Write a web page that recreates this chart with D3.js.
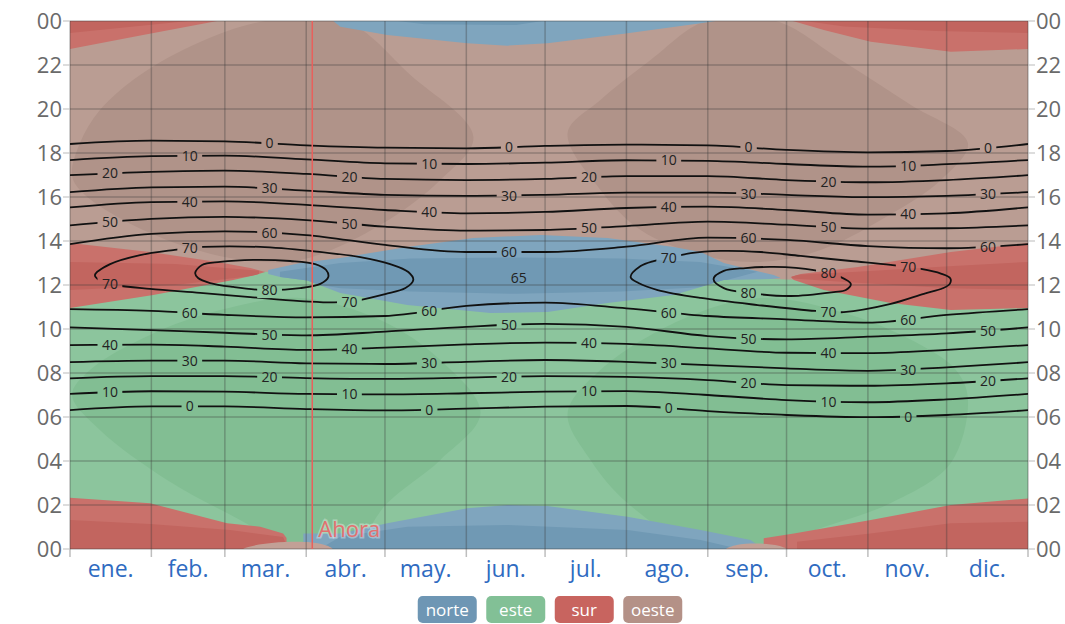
<!DOCTYPE html>
<html lang="es">
<head>
<meta charset="UTF-8">
<title>Posición del sol</title>
<script src="https://d3js.org/d3.v7.min.js"></script>
<style>
  body { margin: 0; background: #fff; }
  svg { display: block; font-family: "Open Sans", "Segoe UI", sans-serif; }
  .tick-label { fill: #6a6a6a; font-size: 22px; }
  .month-label { fill: #2f6bc1; font-size: 23px; }
  .contour { fill: none; stroke: #111; stroke-width: 1.8; }
  .contour-label { fill: #222; font-size: 14px; }
  .grid line { stroke: #3a3a3a; stroke-opacity: 0.33; stroke-width: 1.5; }
  .legend text { fill: #fff; font-size: 17px; }
</style>
</head>
<body>
<svg id="chart" width="1065" height="624"></svg>
<script>
// ---- values ----
const months = ["ene.", "feb.", "mar.", "abr.", "may.", "jun.", "jul.", "ago.", "sep.", "oct.", "nov.", "dic."];
const monthDays = [31, 28, 31, 30, 31, 30, 31, 31, 30, 31, 30, 31];
const hourTicks = [0, 2, 4, 6, 8, 10, 12, 14, 16, 18, 20, 22, 24];
const legendNames = ["norte", "este", "sur", "oeste"];

// sun elevation contours, hour of day at each month start (+ 31 dic)
const levels = [0, 10, 20, 30, 40, 50, 60];
const amHours = [
  [6.31, 6.48, 6.48, 6.36, 6.30, 6.38, 6.47, 6.50, 6.27, 6.09, 5.99, 6.09, 6.31],
  [7.05, 7.17, 7.15, 7.05, 7.03, 7.08, 7.15, 7.18, 7.00, 6.77, 6.67, 6.80, 7.05],
  [7.76, 7.86, 7.86, 7.77, 7.73, 7.79, 7.86, 7.82, 7.68, 7.45, 7.42, 7.53, 7.76],
  [8.49, 8.56, 8.56, 8.44, 8.41, 8.51, 8.59, 8.51, 8.36, 8.21, 8.10, 8.26, 8.49],
  [9.27, 9.29, 9.20, 9.05, 9.15, 9.30, 9.38, 9.32, 9.12, 8.92, 8.90, 9.05, 9.27],
  [10.07, 9.95, 9.83, 9.71, 9.88, 10.10, 10.23, 10.10, 9.68, 9.53, 9.65, 9.80, 10.07],
  [10.90, 10.82, 10.64, 10.53, 10.59, 11.05, 11.20, 10.94, 10.59, 10.44, 10.29, 10.64, 10.90]
];
const pmHours = [
  [18.41, 18.56, 18.53, 18.35, 18.24, 18.21, 18.32, 18.38, 18.35, 18.14, 18.03, 18.09, 18.41],
  [17.68, 17.86, 17.88, 17.71, 17.53, 17.50, 17.56, 17.67, 17.64, 17.50, 17.38, 17.49, 17.68],
  [16.99, 17.14, 17.20, 17.05, 16.82, 16.77, 16.82, 16.95, 16.95, 16.77, 16.67, 16.77, 16.99],
  [16.22, 16.44, 16.47, 16.29, 16.10, 16.05, 16.10, 16.20, 16.20, 16.10, 15.99, 16.05, 16.22],
  [15.53, 15.77, 15.80, 15.64, 15.41, 15.26, 15.32, 15.50, 15.56, 15.41, 15.20, 15.26, 15.53],
  [14.71, 15.01, 15.10, 14.95, 14.65, 14.47, 14.50, 14.68, 14.88, 14.74, 14.56, 14.58, 14.71],
  [13.86, 14.32, 14.44, 14.27, 13.82, 13.50, 13.50, 13.74, 14.15, 14.05, 13.77, 13.67, 13.86]
];

// closed contours near noon: [day of year, hour]
const loop70Left = [[9.5, 12.45], [15.3, 12.95], [26.7, 13.36], [39.3, 13.59], [50.7, 13.73], [72.5, 13.73], [91.5, 13.55], [110.6, 13.27], [122, 12.95], [128.9, 12.59], [130.8, 12.23], [127.8, 11.86], [120.1, 11.59], [105.6, 11.23], [87.7, 11.27], [68.7, 11.45], [49.6, 11.64], [30.5, 11.82], [17.2, 12.0], [11.4, 12.2]];
const loop80Left = [[47.7, 12.55], [50.3, 12.91], [57.2, 13.05], [69.8, 13.14], [83.9, 13.09], [93.4, 12.95], [97.6, 12.68], [98.4, 12.36], [95.4, 12.05], [87.7, 11.86], [74.4, 11.77], [62.2, 11.91], [53.4, 12.09], [48.8, 12.32]];
const loop70Right = [[213.6, 12.36], [217.4, 12.86], [222.4, 13.09], [228.1, 13.23], [236.5, 13.45], [247.9, 13.55], [263.2, 13.5], [278.4, 13.32], [297.5, 13.09], [312.7, 12.91], [324.2, 12.73], [331.8, 12.52], [335.4, 12.3], [335.2, 12.05], [332.5, 11.85], [325.3, 11.6], [312.7, 11.14], [294.8, 10.77], [284.1, 10.82], [262, 11.09], [240.3, 11.41], [223.9, 11.77], [216.6, 12.09]];
const loop80Right = [[245.2, 12.27], [249.1, 12.64], [257.4, 12.77], [268.1, 12.82], [283.4, 12.68], [293.7, 12.36], [297.5, 12.05], [295.6, 11.77], [291, 11.68], [274.6, 11.5], [258.6, 11.64], [249.1, 11.86]];
const peakLabel = { day: 171, hour: 12.32, text: "65" };

// sun direction areas: [day of year, hour]
const noonLine = [12.43, 12.52, 12.6, 12.58, 12.45, 12.39, 12.52, 12.57, 12.45, 12.25, 12.16, 12.18, 12.43];
const oesteDarkLeft = [[74.4, 24], [104.9, 24], [129.7, 21.55], [153.7, 18.73], [141.1, 16.77], [118.2, 14.73], [87.7, 13.14], [61, 13.23], [30.5, 14.36], [5.7, 16.09], [0.8, 16.95], [3.8, 18.45], [11.4, 19.95], [26.7, 21.55], [49.6, 23.05]];
const oesteDarkRight = [[242.2, 24], [268.9, 24], [293.7, 22.23], [320.4, 20.18], [342.1, 18.45], [331.8, 16.77], [308.9, 14.95], [286, 13.59], [263.2, 13.05], [240.3, 13.36], [217.4, 14.5], [202.1, 16.32], [189.6, 18.91], [202.1, 20.41], [221.2, 22.23]];
const esteDarkLeft = [[0.8, 7.0], [7.6, 8.14], [30.5, 9.73], [57.2, 10.86], [87.7, 11.41], [118.2, 10.41], [141.1, 8.59], [156.4, 6.18], [141.1, 4.05], [120.9, 2.09], [106.8, 0], [85.8, 0], [64.8, 1.32], [37, 3.14], [11.4, 5.41]];
const esteDarkRight = [[189.6, 6.18], [202.1, 8.14], [232.7, 10.41], [263.2, 11.41], [297.5, 10.64], [324.2, 9.27], [337.5, 8.14], [342.1, 6.86], [335.6, 3.91], [312.7, 2.09], [287.2, 1.0], [262, 0], [240.3, 0], [212.4, 2.09], [198.3, 4.05]];

const surNoonLeft = [[0, 13.91], [30.5, 13.5], [56.1, 13.05], [68.7, 12.77], [74.4, 12.59], [70.6, 12.45], [62.2, 12.23], [31.7, 11.55], [0, 10.95]];
const surNoonLeftCore = [[0, 13.05], [40, 12.95], [72, 12.65], [72, 12.45], [40, 12.0], [0, 11.77]];
const surNoonRight = [[274.6, 12.36], [278.4, 12.5], [300.2, 12.82], [335.6, 13.5], [365, 13.91], [365, 10.95], [335.6, 10.86], [312.7, 11.18], [287.2, 11.77], [275.8, 12.23]];
const surNoonRightCore = [[275, 12.45], [300, 12.6], [335, 12.85], [365, 13.05], [365, 11.77], [335, 11.85], [300, 12.1], [275, 12.3]];
const norteNoon = [[75.5, 12.68], [87.7, 13.0], [103, 13.23], [128.5, 13.73], [153.7, 14.14], [179.3, 14.27], [204.8, 14.14], [230, 13.73], [240.3, 13.5], [249.1, 13.0], [268.1, 12.45], [270.8, 12.32], [267, 12.27], [249.1, 12.23], [236.5, 11.77], [230, 11.55], [204.8, 11.18], [181.9, 10.77], [160.2, 10.73], [128.5, 11.09], [103, 11.64], [90.4, 12.2], [80.1, 12.36], [75.5, 12.5]];
const norteNoonCore = [[80, 12.6], [103, 13.0], [130, 13.2], [170, 13.25], [210, 13.2], [240, 13.05], [262, 12.6], [240, 11.9], [210, 11.7], [170, 11.6], [130, 11.7], [103, 11.85], [80, 12.3]];

const surTopLeft = [[0, 24], [56.1, 24], [27.8, 23.36], [0, 22.73]];
const surTopLeftCore = [[0, 24], [45, 24], [0, 23.45]];
const surTopRight = [[275.4, 24], [287.2, 23.59], [305.1, 23.06], [335.6, 22.6], [365, 22.73], [365, 24]];
const surTopRightCore = [[280, 24], [365, 24], [365, 23.45], [330, 23.55], [295, 23.75]];
const surBottomLeft = [[0, 0], [0, 2.33], [30.5, 2.08], [59.9, 1.17], [72.5, 1.01], [81.2, 0.71], [82.5, 0.5], [82.5, 0]];
const surBottomLeftCore = [[0, 0], [0, 1.32], [30.5, 1.14], [61, 0.86], [81.2, 0.55], [83, 0]];
const surBottomRight = [[264.3, 0], [264.3, 0.49], [275.8, 0.71], [305.1, 1.32], [335.6, 2.0], [365, 2.3], [365, 0]];
const surBottomRightCore = [[277, 0], [277, 0.33], [305, 0.71], [335.6, 1.17], [365, 1.24], [365, 0]];
const norteTop = [[100.3, 24], [103, 23.74], [120.9, 23.36], [151.4, 22.99], [166.7, 22.88], [181.9, 22.99], [212.4, 23.44], [240.3, 23.9], [246, 24]];
const norteTopCore = [[125, 24], [180, 24], [170, 23.82], [135, 23.85]];
const norteBottom = [[88.9, 0], [88.9, 0.71], [103, 0.71], [120.9, 1.17], [151.4, 1.85], [166.7, 2.0], [181.9, 1.95], [212.4, 1.47], [240.3, 0.86], [259.3, 0.41], [262, 0.18], [262, 0]];
const norteBottomCore = [[95, 0], [103, 0.56], [128.5, 1.01], [166.7, 1.09], [212.4, 0.86], [240.3, 0.41], [255, 0]];
const oesteSliverLeft = [[66, 0], [72, 0.2], [82, 0.32], [92, 0.3], [98, 0.15], [100, 0]];
const oesteSliverRight = [[250, 0], [254, 0.18], [262, 0.25], [270, 0.15], [273, 0]];

const nowDay = 92.3;
const nowText = "Ahora";

// ---- colours ----
const palette = {
  norte: "#7fa5be", norteDark: "#7099b4",
  este: "#8cc59d", esteDark: "#82be93",
  sur: "#c9716b", surDark: "#c2655f",
  oeste: "#ba9d93", oesteDark: "#b09389", oesteSliver: "#c2a096"
};
const legendColors = ["#6e96b4", "#82c096", "#c8645f", "#b49187"];

// ---- layout ----
const svg = d3.select("#chart");
const W = 1065, H = 624;
const x = d3.scaleLinear().domain([0, 365]).range([70, 1028]);
const y = d3.scaleLinear().domain([0, 24]).range([549, 21]);
const monthStarts = Array.from(d3.cumsum([0, ...monthDays]));

const defs = svg.append("defs");
defs.append("clipPath").attr("id", "plot-clip")
  .append("rect").attr("x", x(0)).attr("y", y(24)).attr("width", x(365) - x(0)).attr("height", y(0) - y(24));

const polyD = pts => d3.line().x(d => x(d[0])).y(d => y(d[1])).curve(d3.curveLinearClosed)(pts);
const blobD = pts => d3.line().x(d => x(d[0])).y(d => y(d[1])).curve(d3.curveCatmullRomClosed.alpha(0.5))(pts);

const plot = svg.append("g").attr("clip-path", "url(#plot-clip)");

// base: west everywhere, east below the noon line
plot.append("rect").attr("x", x(0)).attr("y", y(24)).attr("width", x(365) - x(0)).attr("height", y(0) - y(24))
  .attr("fill", palette.oeste);
plot.append("path").attr("d", blobD(oesteDarkLeft)).attr("fill", palette.oesteDark);
plot.append("path").attr("d", blobD(oesteDarkRight)).attr("fill", palette.oesteDark);

const esteArea = [[0, 0], ...monthStarts.map((d, i) => [d, noonLine[i]]), [365, 0]];
plot.append("path").attr("d", d3.line().x(d => x(d[0])).y(d => y(d[1])).curve(d3.curveMonotoneX)(esteArea) + "Z")
  .attr("fill", palette.este);
plot.append("path").attr("d", blobD(esteDarkLeft)).attr("fill", palette.esteDark);
plot.append("path").attr("d", blobD(esteDarkRight)).attr("fill", palette.esteDark);

let wedgeId = 0;
function wedge(points, fill, core, coreFill) {
  const id = "wedge-" + (wedgeId++);
  const d = polyD(points);
  defs.append("clipPath").attr("id", id).append("path").attr("d", d);
  plot.append("path").attr("d", d).attr("fill", fill);
  if (core) {
    plot.append("path").attr("d", polyD(core)).attr("fill", coreFill).attr("clip-path", `url(#${id})`);
  }
}
wedge(surNoonLeft, palette.sur, surNoonLeftCore, palette.surDark);
wedge(surNoonRight, palette.sur, surNoonRightCore, palette.surDark);
wedge(norteNoon, palette.norte, norteNoonCore, palette.norteDark);
wedge(surTopLeft, palette.sur, surTopLeftCore, palette.surDark);
wedge(surTopRight, palette.sur, surTopRightCore, palette.surDark);
wedge(surBottomLeft, palette.sur, surBottomLeftCore, palette.surDark);
wedge(surBottomRight, palette.sur, surBottomRightCore, palette.surDark);
wedge(norteTop, palette.norte, norteTopCore, palette.norteDark);
wedge(norteBottom, palette.norte, norteBottomCore, palette.norteDark);
plot.append("path").attr("d", blobD(oesteSliverLeft)).attr("fill", palette.oesteSliver);
plot.append("path").attr("d", blobD(oesteSliverRight)).attr("fill", palette.oesteSliver);

// ---- grid ----
const grid = svg.append("g").attr("class", "grid");
grid.selectAll(".h").data(hourTicks).join("line")
  .attr("x1", x(0)).attr("x2", x(365)).attr("y1", d => y(d)).attr("y2", d => y(d));
grid.selectAll(".v").data(monthStarts).join("line")
  .attr("x1", d => x(d)).attr("x2", d => x(d)).attr("y1", y(24)).attr("y2", y(0) + 8);

// ---- axes labels ----
const fmtHour = d => String(d % 24).padStart(2, "0");
const ticksG = svg.append("g");
ticksG.selectAll(".lt").data(hourTicks).join("line")
  .attr("x1", x(0) - 7).attr("x2", x(0)).attr("y1", d => y(d)).attr("y2", d => y(d)).attr("stroke", "#bbb");
ticksG.selectAll(".rt").data(hourTicks).join("line")
  .attr("x1", x(365)).attr("x2", x(365) + 7).attr("y1", d => y(d)).attr("y2", d => y(d)).attr("stroke", "#bbb");
ticksG.selectAll(".ll").data(hourTicks).join("text").attr("class", "tick-label")
  .attr("x", x(0) - 8).attr("y", d => y(d)).attr("dy", "0.36em").attr("text-anchor", "end").text(fmtHour);
ticksG.selectAll(".rl").data(hourTicks).join("text").attr("class", "tick-label")
  .attr("x", x(365) + 8).attr("y", d => y(d)).attr("dy", "0.36em").attr("text-anchor", "start").text(fmtHour);
svg.append("g").selectAll("text").data(months).join("text").attr("class", "month-label")
  .attr("x", (d, i) => x((monthStarts[i] + monthStarts[i + 1]) / 2)).attr("y", 577)
  .attr("text-anchor", "middle").text(d => d);

// ---- contours ----
const mask = defs.append("mask").attr("id", "label-gaps").attr("maskUnits", "userSpaceOnUse")
  .attr("x", 0).attr("y", 0).attr("width", W).attr("height", H);
mask.append("rect").attr("width", W).attr("height", H).attr("fill", "white");
const contourG = svg.append("g").attr("clip-path", "url(#plot-clip)").append("g").attr("mask", "url(#label-gaps)");
const labelG = svg.append("g");

const openLine = d3.line().x(d => x(d[0])).y(d => y(d[1])).curve(d3.curveMonotoneX);
const slotDays = d3.range(12).map(k => (k + 0.5) * 365 / 12);

function crossings(node, px) {
  const L = node.getTotalLength();
  const ys = [];
  let prev = node.getPointAtLength(0);
  for (let s = 1.5; s <= L + 1.5; s += 1.5) {
    const p = node.getPointAtLength(Math.min(s, L));
    if (prev.x !== p.x && (prev.x - px) * (p.x - px) <= 0) {
      const t = (px - prev.x) / (p.x - prev.x);
      const yy = prev.y + t * (p.y - prev.y);
      if (!ys.some(v => Math.abs(v - yy) < 2)) ys.push(yy);
    }
    prev = p;
  }
  return ys;
}

function addLabel(px, py, text) {
  const w = text.length * 8.4 + 8;
  mask.append("rect").attr("x", px - w / 2).attr("y", py - 8).attr("width", w).attr("height", 16).attr("fill", "black");
  labelG.append("text").attr("class", "contour-label").attr("x", px).attr("y", py).attr("dy", "0.36em")
    .attr("text-anchor", "middle").text(text);
}

const mod3 = n => ((n % 3) + 3) % 3;
const pmSlot = lv => mod3(2 - lv / 10);
const amSlot = lv => mod3(1 - lv / 10);

function labelPath(node, level, kind) {
  const offset = kind === "pm" ? pmSlot(level) : amSlot(level);
  slotDays.forEach((sd, k) => {
    if (k % 3 !== offset) return;
    const ys = crossings(node, x(sd));
    if (!ys.length) return;
    const py = ys.length === 1 ? ys[0] : (kind === "pm" ? d3.min(ys) : d3.max(ys));
    addLabel(x(sd), py, String(level));
  });
}

levels.forEach((lv, i) => {
  [["am", amHours[i]], ["pm", pmHours[i]]].forEach(([kind, hours]) => {
    const pts = monthStarts.map((d, j) => [d, hours[j]]);
    const path = contourG.append("path").attr("class", "contour").attr("d", openLine(pts));
    labelPath(path.node(), lv, kind);
  });
});

[[70, loop70Left], [80, loop80Left], [70, loop70Right], [80, loop80Right]].forEach(([lv, pts]) => {
  const path = contourG.append("path").attr("class", "contour").attr("d", blobD(pts));
  labelPath(path.node(), lv, "pm");
  labelPath(path.node(), lv, "am");
});

labelG.append("text").attr("class", "contour-label")
  .attr("x", x(peakLabel.day)).attr("y", y(peakLabel.hour)).attr("dy", "0.36em")
  .attr("text-anchor", "middle").text(peakLabel.text);

// ---- now marker ----
svg.append("line").attr("x1", x(nowDay)).attr("x2", x(nowDay)).attr("y1", y(24)).attr("y2", y(0))
  .attr("stroke", "#e8605c").attr("stroke-width", 1.5);
svg.append("text").attr("x", x(nowDay) + 6).attr("y", 537).attr("font-size", 22)
  .attr("fill", "#e3706f").attr("stroke", "rgba(255,255,255,0.35)").attr("stroke-width", 3)
  .attr("paint-order", "stroke").text(nowText);

// ---- legend ----
const pillW = 59, pillH = 27, gap = 9.5;
const legendX0 = 550 - (legendNames.length * pillW + (legendNames.length - 1) * gap) / 2;
const legend = svg.append("g").attr("class", "legend");
const item = legend.selectAll("g").data(legendNames).join("g")
  .attr("transform", (d, i) => `translate(${legendX0 + i * (pillW + gap)},596)`);
item.append("rect").attr("width", pillW).attr("height", pillH).attr("rx", 5)
  .attr("fill", (d, i) => legendColors[i]);
item.append("text").attr("x", pillW / 2).attr("y", pillH / 2).attr("dy", "0.36em")
  .attr("text-anchor", "middle").text(d => d);
</script>
</body>
</html>
